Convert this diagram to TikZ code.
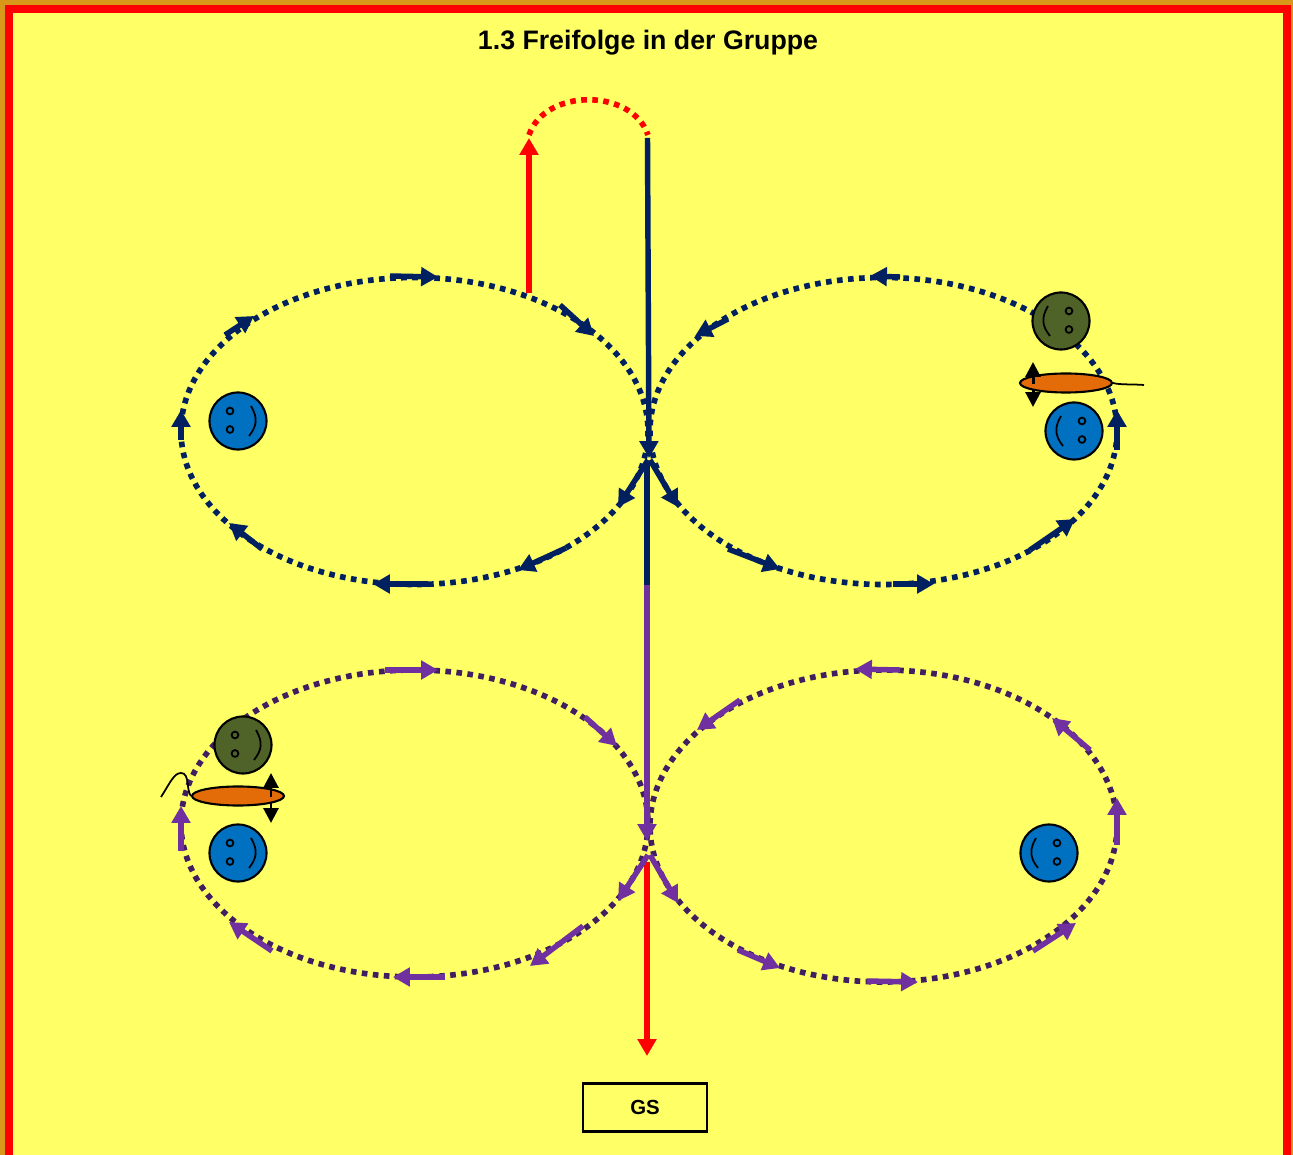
\documentclass[tikz,border=0pt]{standalone}
\usepackage{fontspec}
\setmainfont{Liberation Sans}
\usetikzlibrary{arrows.meta,shapes.geometric}
\definecolor{framegold}{HTML}{D8981A}
\definecolor{padyellow}{HTML}{FFFF66}
\definecolor{navyline}{HTML}{002060}
\definecolor{purpleline}{HTML}{7030A0}
\definecolor{plumdots}{HTML}{3F1F5F}
\definecolor{faceblue}{HTML}{0070C0}
\definecolor{facegreen}{HTML}{4F6228}
\definecolor{boatorange}{HTML}{E36C09}

\begin{document}
\begin{tikzpicture}[x=0.01cm,y=-0.01cm,
    dots/.style={line width=1.6pt,dash pattern=on 1.6pt off 1.55pt},
    navyarrow/.style={navyline,line width=1.55pt,-{Triangle[width=5.2pt,length=4.8pt]}},
    purplearrow/.style={purpleline,line width=1.55pt,-{Triangle[width=5.2pt,length=4.8pt]}},
    redarrow/.style={red,line width=1.65pt,-{Triangle[width=5.2pt,length=4.8pt]}},
    blackarrow/.style={black,line width=0.85pt,-{Triangle[width=4.2pt,length=4.2pt]}},
    face/.style={circle,draw=black,line width=0.6pt,minimum size=0.57cm,inner sep=0pt},
    boat/.style={ellipse,draw=black,fill=boatorange,line width=0.6pt,
      minimum width=0.92cm,minimum height=0.19cm,inner sep=0pt},
    every node/.style={font=\bfseries}]
  \useasboundingbox (0,0) rectangle (1293,1155);
  \fill[framegold] (0,0) rectangle (1293,1155);
  \fill[red] (5,5) rectangle (1291,1155);
  \fill[padyellow] (13,13) rectangle (1283,1155);

  \node[font=\bfseries\fontsize{7.6}{9}\selectfont] (title) at (648,43) {1.3 Freifolge in der Gruppe};
  \node[draw=black,line width=0.6pt,minimum width=1.24cm,minimum height=0.48cm,inner sep=0pt,
    font=\bfseries\fontsize{5.8}{7}\selectfont] (gs) at (645,1107.5) {\raisebox{0.3pt}{GS}};

  % dotted tracks
  \draw[navyline,dots] (414.5,431) ellipse [x radius=233.5,y radius=153.5];
  \draw[navyline,dots] (883.5,431) ellipse [x radius=233.5,y radius=153.5];
  \draw[plumdots,dots] (414.5,823.5) ellipse [x radius=233.5,y radius=153.5];
  \draw[plumdots,dots] (883.5,826) ellipse [x radius=233.5,y radius=156];
  \draw[red,dots] (529,135) .. controls (545,88) and (632,88) .. (648,135);

  % entry and exit lines
  \coordinate (redstart) at (529,293);
  \coordinate (redtip) at (529,138);
  \coordinate (navytop) at (647.5,138);
  \coordinate (navytip) at (649,458);
  \coordinate (navyfoot) at (647,462);
  \coordinate (purpletop) at (647,585);
  \coordinate (purpletip) at (647,841);
  \coordinate (exitstart) at (647,862);
  \coordinate (exittip) at (647,1056);
  \draw[redarrow] (redstart) -- (redtip);
  \draw[navyarrow] (navytop) -- (navytip);
  \draw[navyline,line width=1.55pt] (navyfoot) -- (purpletop);
  \draw[purplearrow] (purpletop) -- (purpletip);
  \draw[redarrow] (exitstart) -- (exittip);

  % arrows on the upper tracks
  \foreach \n/\xa/\ya/\xb/\yb in {1/390/276/438/277,2/560/305/594/336,3/181/440/181/410,
    4/225/335/254/316,5/428/584/373/584,6/566/548/518/570,7/648/460/618/507,8/262/549/229/523,
    9/900/277/870/276,10/728/319/695/336,11/1117/450/1117/410,12/1030/550/1075/519,
    13/893/584/934/584,14/728/549/780/569,15/650/460/678/507}{
    \coordinate (na\n) at (\xa,\ya);
    \coordinate (nb\n) at (\xb,\yb);
    \draw[navyarrow] (na\n) -- (nb\n);
  }
  % arrows on the lower tracks
  \foreach \n/\xa/\ya/\xb/\yb in {1/385/670/438/670,2/585/717/617/746,3/181/851/181/806,
    4/272/951/229/922,5/445/977/393/977,6/583/926/530/966,7/648/855/618/901,8/650/855/678/903,
    9/740/700/697/730,10/900/670/855/669,11/1090/750/1052/718,12/1117/845/1117/798,
    13/1033/951/1076/923,14/867/981/918/982,15/738/950/780/968}{
    \coordinate (pa\n) at (\xa,\ya);
    \coordinate (pb\n) at (\xb,\yb);
    \draw[purplearrow] (pa\n) -- (pb\n);
  }

  % players, s=-1 looks to the left, s=1 to the right
  \foreach \n/\x/\y/\c/\s in {a/238/421/faceblue/-1,b/1061/321/facegreen/1,c/1074/431/faceblue/1,
    d/243/745/facegreen/-1,e/238/853/faceblue/-1,f/1049/853/faceblue/1}{
    \node[face,fill=\c] (face\n) at (\x,\y) {};
    \draw[line width=0.5pt] (\x+\s*8,\y-10) circle [radius=3.4];
    \draw[line width=0.5pt] (\x+\s*8,\y+8.5) circle [radius=3.4];
    \draw[line width=0.5pt] (\x-\s*13,\y-15) .. controls (\x-\s*20,\y-3) and (\x-\s*19,\y+5) .. (\x-\s*11,\y+15);
  }

  % boats with paddle arrows
  \coordinate (padra) at (1033,384);
  \coordinate (padrb) at (1033,407);
  \coordinate (padrc) at (1033,362);
  \draw[blackarrow] (padra) -- (padrb);
  \node[boat] (boatr) at (1066,383) {};
  \draw[blackarrow] (padra) -- (padrc);
  \coordinate (tailr) at (1144,385);
  \draw[line width=0.5pt] (boatr.east) .. controls (1120,385) and (1132,384) .. (tailr);

  \coordinate (padla) at (271,797);
  \coordinate (padlb) at (271,823);
  \coordinate (padlc) at (271,773);
  \draw[blackarrow] (padla) -- (padlb);
  \node[boat] (boatl) at (238,796) {};
  \draw[blackarrow] (padla) -- (padlc);
  \coordinate (taill) at (161,797);
  \draw[line width=0.5pt] (boatl.west) .. controls (186,790) and (190,773) .. (181,773)
    .. controls (174,773) and (170,783) .. (taill);
\end{tikzpicture}
\end{document}
